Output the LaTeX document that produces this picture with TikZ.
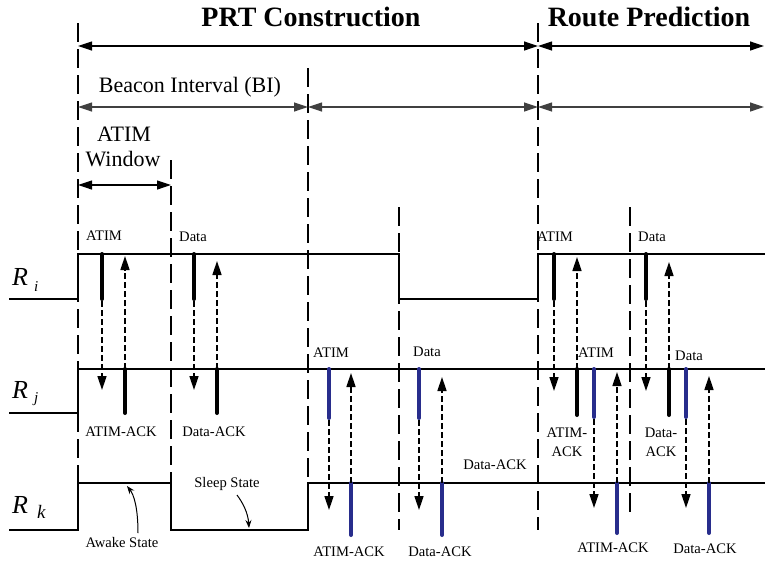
\documentclass[tikz,border=0pt]{standalone}
\usepackage{fontspec}
\setmainfont{Liberation Serif}
\usetikzlibrary{arrows.meta}
\definecolor{myblue}{RGB}{40,45,140}
\tikzset{
  sig/.style={line width=2pt, line join=miter},
  vdash/.style={line width=2.6pt, dash pattern=on 19pt off 7pt},
  bar/.style={line width=4pt, line cap=round},
  bbar/.style={bar, draw=myblue},
  msg/.style={line width=1.6pt, dash pattern=on 6pt off 3pt, -{Triangle[length=14pt,width=9pt]}},
  harr/.style={line width=1.2pt, {Triangle[length=14pt,width=9pt]}-{Triangle[length=14pt,width=9pt]}},
  small/.style={font=\fontsize{14.6}{18}\selectfont, inner sep=0pt, align=center},
  big/.style={font=\fontsize{22}{26}\selectfont, inner sep=0pt},
  ttl/.style={font=\fontsize{28}{32}\selectfont\bfseries, inner sep=0pt},
  ptr/.style={line width=1pt, -{Stealth[length=8pt,width=6pt]}},
  rlab/.style={anchor=base west, inner sep=0pt, font=\fontsize{26}{30}\selectfont\itshape},
  rsub/.style={anchor=base west, inner sep=0pt, font=\fontsize{15}{18}\selectfont\itshape},
}
\begin{document}
\begin{tikzpicture}[x=1pt,y=-1pt]
\useasboundingbox (0,0) rectangle (765,565);
% vertical dashed lines
\draw[vdash] (78,23) -- (78,483);
\draw[vdash] (171,160) -- (171,483);
\draw[vdash] (308,68) -- (308,483);
\draw[vdash] (399,207) -- (399,530);
\draw[vdash] (538,23) -- (538,530);
\draw[vdash] (630,207) -- (630,517);
% horizontal arrows
\draw[harr] (78,46) -- (538,46);
\draw[harr] (538,46) -- (764,46);
\draw[harr, draw=black!75] (78,107) -- (308,107);
\draw[harr, draw=black!75] (308,107) -- (538,107);
\draw[harr, draw=black!75] (538,107) -- (764,107);
\draw[harr] (78,185) -- (171,185);
% titles
\node[ttl] (t1) at (311,17) {PRT Construction};
\node[ttl] (t2) at (649,17) {Route Prediction};
\node[big] (bi) at (190,87) {Beacon Interval (BI)};
\node[big] (aw1) at (124,134) {ATIM};
\node[big] (aw2) at (123,159) {Window};
% signals
\draw[sig] (9,299) -- (78,299) -- (78,254) -- (399,254) -- (399,299) -- (538,299) -- (538,254) -- (765,254);
\draw[sig] (9,413) -- (78,413) -- (78,369) -- (765,369);
\draw[sig] (9,530) -- (78,530) -- (78,483) -- (171,483) -- (171,530) -- (308,530) -- (308,483) -- (765,483);
% R labels
\node[rlab] (ri) at (12,285) {R};
\node[rsub] (ris) at (34,291) {i};
\node[rlab] (rj) at (12,398) {R};
\node[rsub] (rjs) at (34,402) {j};
\node[rlab] (rk) at (12,513) {R};
\node[rsub, font=\fontsize{19}{22}\selectfont\itshape] (rks) at (37,518) {k};
% bars R_i
\draw[bar] (102,254) -- (102,299);
\draw[bar] (194,254) -- (194,299);
\draw[bar] (554,254) -- (554,299);
\draw[bar] (646,254) -- (646,299);
% bars R_j black
\draw[bar] (125,369) -- (125,413);
\draw[bar] (217,369) -- (217,413);
\draw[bar] (577,369) -- (577,415);
\draw[bar] (669,369) -- (669,415);
% bars R_j blue
\draw[bbar] (329,369) -- (329,418);
\draw[bbar] (419,369) -- (419,418);
\draw[bbar] (594,369) -- (594,417);
\draw[bbar] (686,369) -- (686,417);
% bars R_k blue
\draw[bbar] (351,483) -- (351,535);
\draw[bbar] (442,483) -- (442,535);
\draw[bbar] (617,483) -- (617,533);
\draw[bbar] (709,483) -- (709,533);
% messages
\draw[msg] (102,301) -- (102,390);
\draw[msg] (125,369) -- (125,256);
\draw[msg] (194,301) -- (194,390);
\draw[msg] (217,369) -- (217,261);
\draw[msg] (329,420) -- (329,510);
\draw[msg] (351,483) -- (351,373);
\draw[msg] (419,420) -- (419,510);
\draw[msg] (442,483) -- (442,377);
\draw[msg] (554,301) -- (554,391);
\draw[msg] (577,369) -- (577,257);
\draw[msg] (646,301) -- (646,391);
\draw[msg] (669,369) -- (669,262);
\draw[msg] (594,419) -- (594,508);
\draw[msg] (617,483) -- (617,372);
\draw[msg] (686,419) -- (686,508);
\draw[msg] (709,483) -- (709,376);
% small labels
\node[small] (l1) at (104,236) {ATIM};
\node[small] (l2) at (193,237) {Data};
\node[small] (l3) at (331,353) {ATIM};
\node[small] (l4) at (427,352) {Data};
\node[small] (l5) at (121,432) {ATIM-ACK};
\node[small] (l6) at (214,432) {Data-ACK};
\node[small] (l7) at (495,465) {Data-ACK};
\node[small] (l8) at (349,552) {ATIM-ACK};
\node[small] (l9) at (440,552) {Data-ACK};
\node[small] (l10) at (555,237) {ATIM};
\node[small] (l11) at (652,237) {Data};
\node[small] (l12) at (596,353) {ATIM};
\node[small] (l13) at (689,356) {Data};
\node[small, font=\fontsize{14.6}{19}\selectfont] (l14) at (567,442) {ATIM-\\ACK};
\node[small, font=\fontsize{14.6}{19}\selectfont] (l15) at (661,442) {Data-\\ACK};
\node[small] (l16) at (613,548) {ATIM-ACK};
\node[small] (l17) at (705,549) {Data-ACK};
\node[small] (aws) at (122,542) {Awake State};
\node[small] (sls) at (227,484) {Sleep State};
% pointers
\coordinate (awt) at (127,486);
\coordinate (slt) at (249,528);
\draw[ptr] (138,533) .. controls (138,508) and (134,495) .. (awt);
\draw[ptr] (237,495) .. controls (243,503) and (248,513) .. (slt);
\end{tikzpicture}
\end{document}
